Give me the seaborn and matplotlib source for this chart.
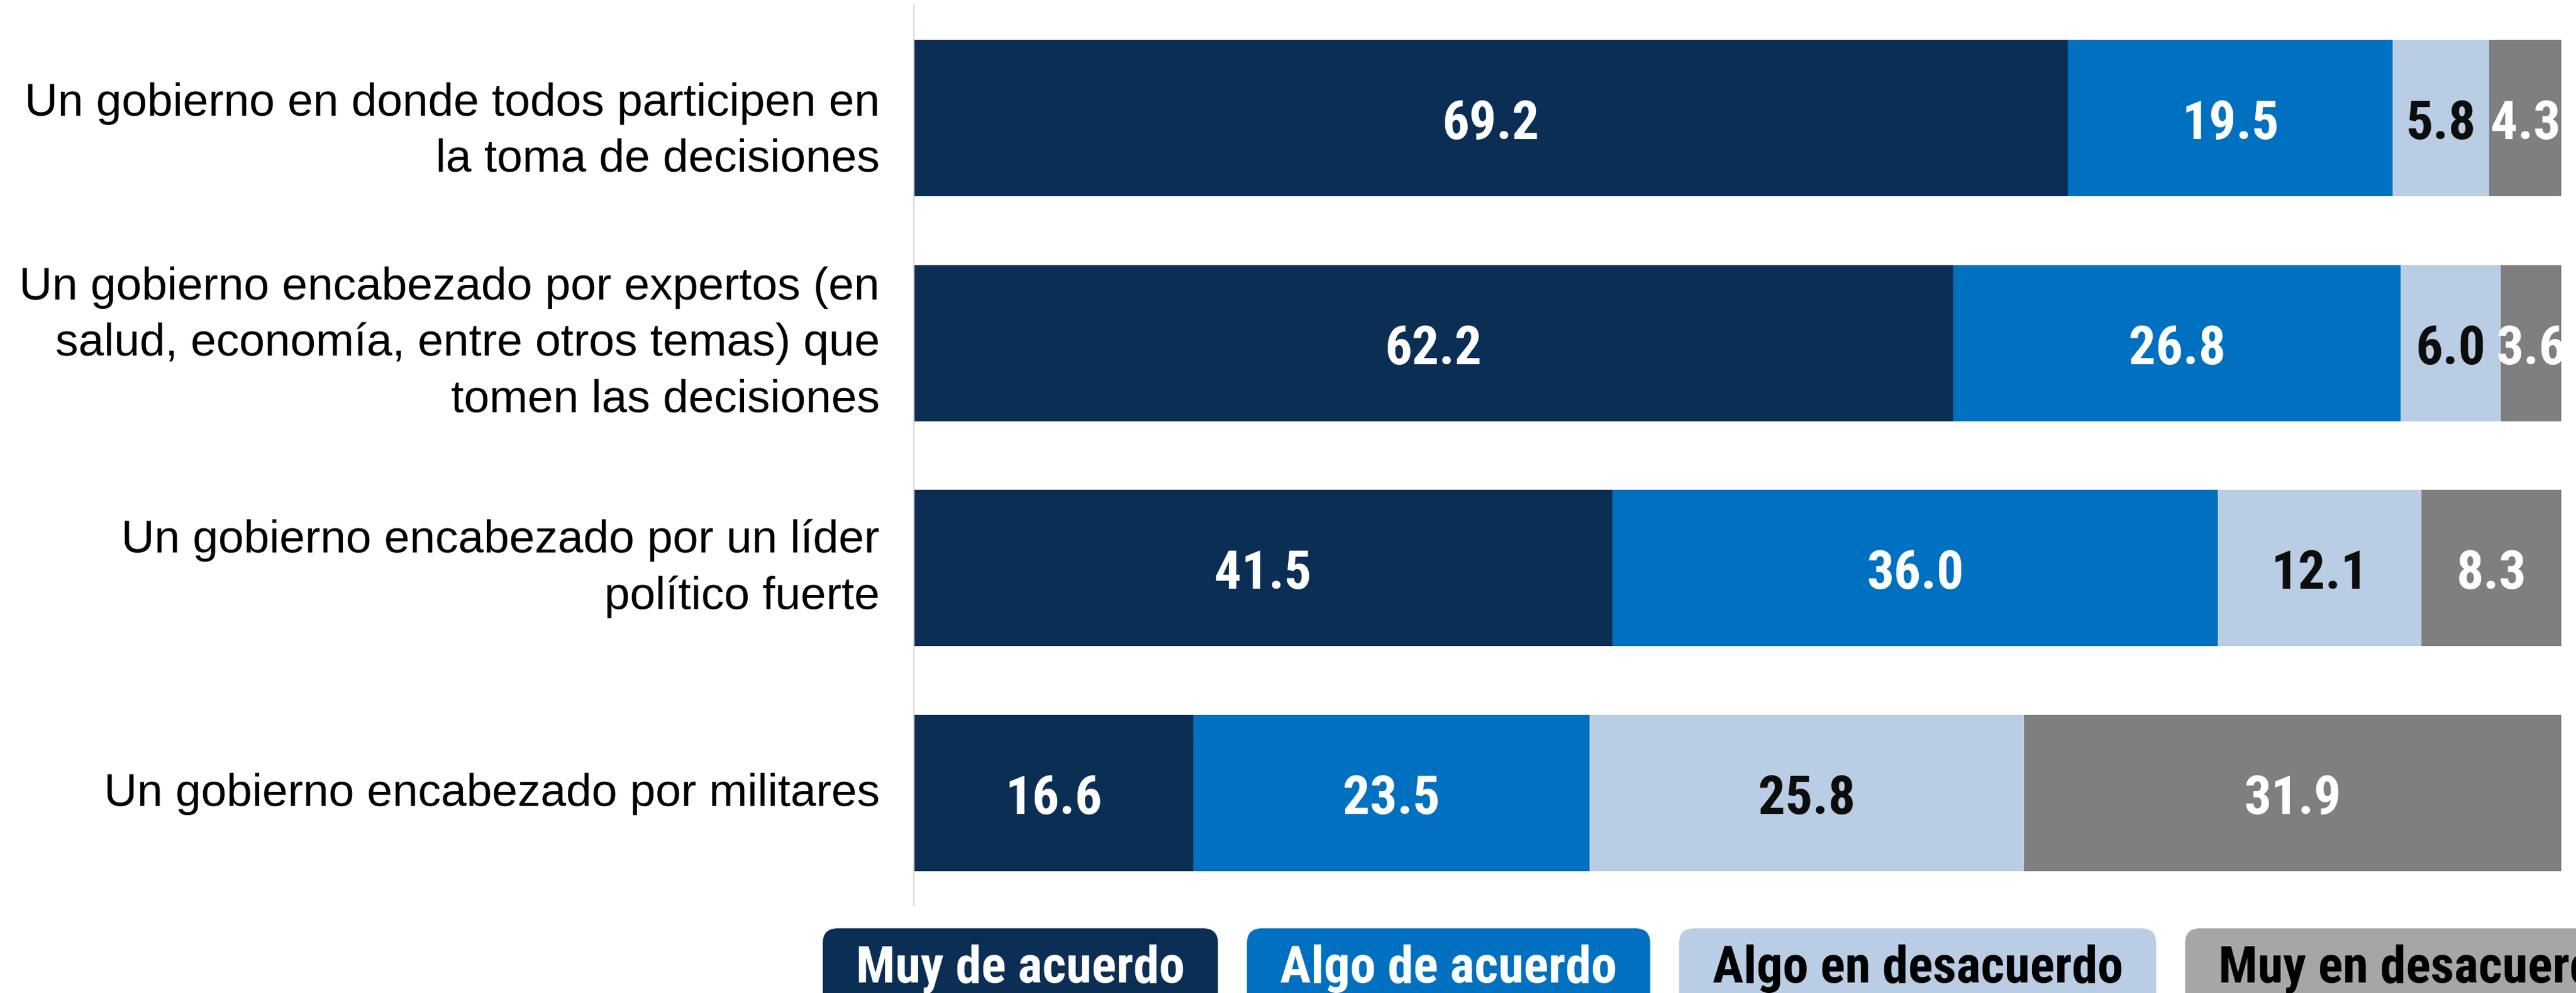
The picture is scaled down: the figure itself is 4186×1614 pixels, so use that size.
import numpy as np
import pandas as pd
import seaborn as sns
import matplotlib.pyplot as plt
from matplotlib import font_manager as fm
from matplotlib.patches import FancyBboxPatch
from matplotlib.transforms import ScaledTranslation

# ---------------- data ----------------
categories = [
    "Un gobierno en donde todos participen en\nla toma de decisiones",
    "Un gobierno encabezado por expertos (en\nsalud, economía, entre otros temas) que\ntomen las decisiones",
    "Un gobierno encabezado por un líder\npolítico fuerte",
    "Un gobierno encabezado por militares",
]
series_names = ["Muy de acuerdo", "Algo de acuerdo", "Algo en desacuerdo", "Muy en desacuerdo"]
muy_de_acuerdo = [69.2, 62.2, 41.5, 16.6]
algo_de_acuerdo = [19.5, 26.8, 36.0, 23.5]
algo_en_desacuerdo = [5.8, 6.0, 12.1, 25.8]
muy_en_desacuerdo = [4.3, 3.6, 8.3, 31.9]

bar_colors = ["#0B2E55", "#0070C0", "#B9CDE5", "#7F7F7F"]
legend_colors = ["#0B2E55", "#0070C0", "#B9CDE5", "#A6A6A6"]
text_colors = ["white", "white", "#0D0D0D", "white"]
legend_text_colors = ["white", "white", "black", "black"]

# ---------------- style ----------------
sns.set_theme(style="white")
names = {f.name for f in fm.fontManager.ttflist}
narrow_candidates = ["Liberation Sans Narrow", "Arial Narrow", "Roboto Condensed",
                     "Open Sans Condensed", "Noto Sans Condensed", "DejaVu Sans Condensed"]
narrow_font = next((n for n in narrow_candidates if n in names), None)
base_family = ["Liberation Sans", "DejaVu Sans"]
bold_family = ([narrow_font] if narrow_font else []) + base_family
plt.rcParams["font.family"] = base_family

W, H = 4186, 1615
fig = plt.figure(figsize=(W / 100, H / 100), dpi=100)
renderer = fig.canvas.get_renderer()


def fit_size(txt, family, weight, target_px, ref=50):
    t = fig.text(0, 0, txt, fontsize=ref, family=family, fontweight=weight)
    w = t.get_window_extent(renderer=renderer).width
    t.remove()
    return ref * target_px / w


value_size = fit_size("69.2", bold_family, "bold", 158)
legend_size = fit_size("Muy de acuerdo", bold_family, "bold", 534)
cat_size = fit_size("Un gobierno en donde todos participen en", base_family, "normal", 1390)

ax_left, ax_right_bar = 1485, 4162
ax_top, ax_bottom = 10, 1473
ax = fig.add_axes([ax_left / W, (H - ax_bottom) / H, 1 - ax_left / W, (ax_bottom - ax_top) / H])

df = pd.DataFrame({
    "categoria": categories,
    series_names[0]: muy_de_acuerdo,
    series_names[1]: algo_de_acuerdo,
    series_names[2]: algo_en_desacuerdo,
    series_names[3]: muy_en_desacuerdo,
})
vals = df[series_names].to_numpy()
shares = vals / vals.sum(axis=1, keepdims=True) * 100
cum = np.cumsum(shares, axis=1)

for i in range(len(series_names) - 1, -1, -1):
    sns.barplot(x=cum[:, i], y=df["categoria"], color=bar_colors[i], orient="h",
                width=0.694, saturation=1, linewidth=0, ax=ax)

for i in range(len(series_names)):
    for j in range(len(categories)):
        xc = cum[j, i] - shares[j, i] / 2
        ax.text(xc, j, f"{vals[j, i]:.1f}", ha="center", va="center_baseline",
                color=text_colors[i], fontsize=value_size, fontweight="bold",
                family=bold_family)

ax.set_xlim(0, 100 * (W - ax_left) / (ax_right_bar - ax_left))
ax.set_ylim(len(categories) - 0.5, -0.5)
ax.set_xlabel("")
ax.set_ylabel("")
ax.set_xticks([])
ax.tick_params(axis="y", length=0, pad=40, labelsize=cat_size, labelcolor="black")
for lab in ax.get_yticklabels():
    lab.set_family(base_family)
    lab.set_linespacing(1.4)
    lab.set_verticalalignment("center")
    lab.set_multialignment("right")
# the first label sits a little below its bar centre in the reference
first = ax.yaxis.get_major_ticks()[0].label1
first.set_transform(first.get_transform() + ScaledTranslation(0, -0.21, fig.dpi_scale_trans))
for s in ["top", "right", "bottom"]:
    ax.spines[s].set_visible(False)
ax.spines["left"].set_color("#D9D9D9")
ax.spines["left"].set_linewidth(1.6)

# ---------------- legend boxes ----------------
lax = fig.add_axes([0, 0, 1, 1], zorder=5)
lax.set_xlim(0, W)
lax.set_ylim(H, 0)
lax.axis("off")
lax.patch.set_alpha(0)

x0 = 1337
pad = 54
gap = 47
box_top = 1510
baseline = 1597
for name, col, tcol in zip(series_names, legend_colors, legend_text_colors):
    t = lax.text(0, baseline, name, ha="center", va="baseline", color=tcol,
                 fontsize=legend_size, fontweight="bold", family=bold_family, zorder=7)
    bb = t.get_window_extent(renderer=renderer)
    bw = bb.width + 2 * pad
    box = FancyBboxPatch((x0, box_top), bw, 160, boxstyle="round,pad=0,rounding_size=24",
                         facecolor=col, edgecolor="none", zorder=6, clip_on=False)
    lax.add_patch(box)
    t.set_x(x0 + bw / 2)
    x0 += bw + gap

fig.savefig("out.png", dpi=100, facecolor="white")
